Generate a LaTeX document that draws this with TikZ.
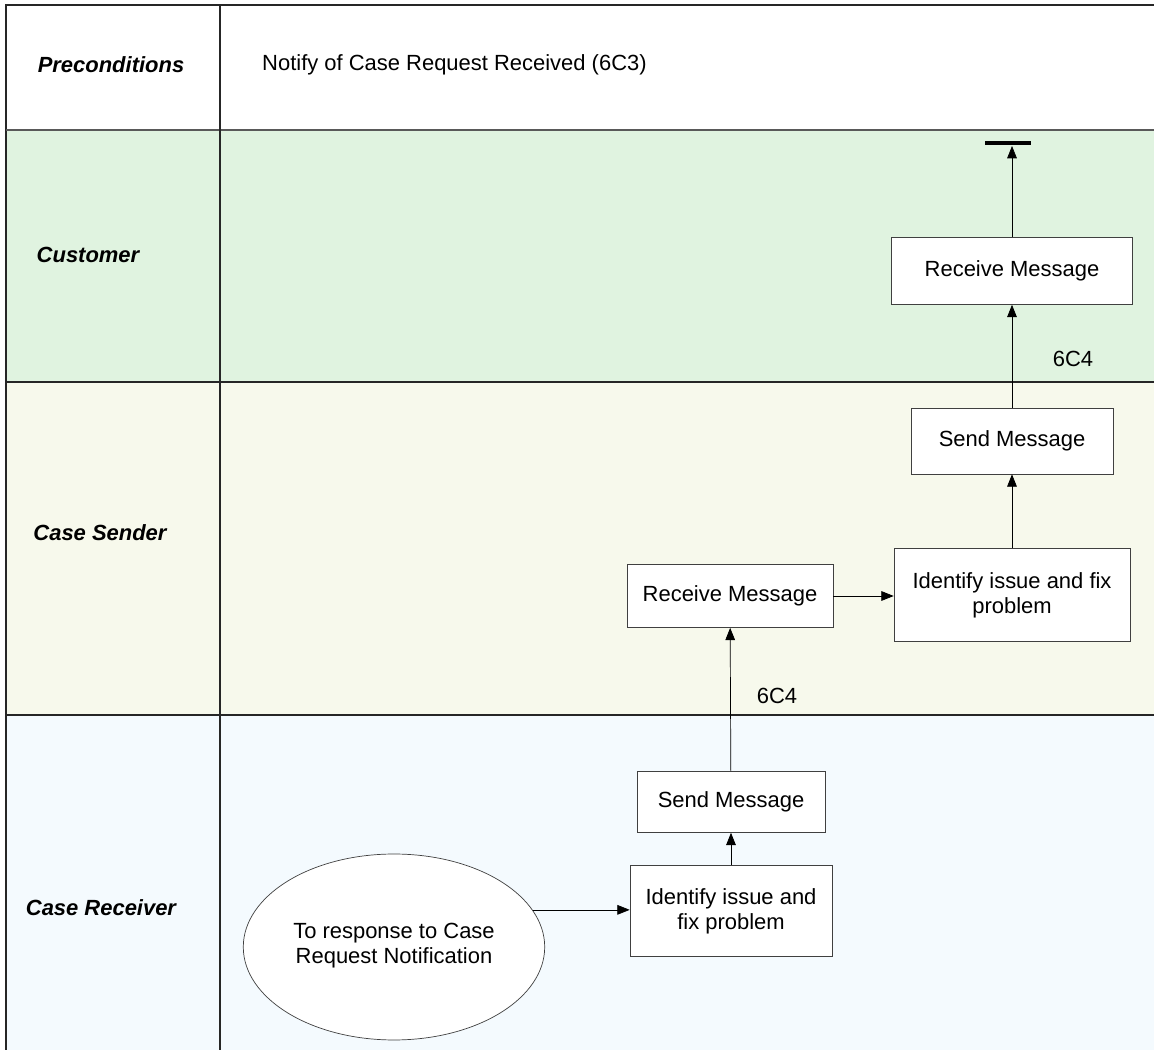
\documentclass[tikz,border=0pt]{standalone}
\usepackage{fontspec}
\setmainfont{Liberation Sans}
\usepackage{tikz}
\usetikzlibrary{arrows.meta, shapes.geometric, calc}
\definecolor{custgreen}{RGB}{224,243,224}
\definecolor{sendcream}{RGB}{247,249,236}
\definecolor{recvblue}{RGB}{244,250,254}
\definecolor{edgegray}{RGB}{64,64,64}

\begin{document}
\begin{tikzpicture}[
  x=0.02cm, y=-0.02cm,
  every node/.style={font=\fontsize{12.5}{14.2}\selectfont},
  box/.style={rectangle, draw=edgegray, fill=white, align=center, inner sep=2pt},
  oval/.style={ellipse, draw=edgegray, fill=white, align=center,
               minimum width=6.02cm, minimum height=3.72cm},
  lanelabel/.style={font=\fontsize{12.5}{14.2}\selectfont\bfseries\itshape},
  arrow/.style={-{Triangle[length=7pt, width=5.5pt]}, black},
  laneline/.style={draw=black!85, line width=0.8pt},
  endbar/.style={black, line width=2.4pt}
]
\useasboundingbox (0,0) rectangle (1154,1050);

% lanes
\fill[white] (6,5) rectangle (1154,130);
\fill[custgreen] (6,130) rectangle (1154,382);
\fill[sendcream] (6,382) rectangle (1154,715);
\fill[recvblue] (6,715) rectangle (1154,1050);
\draw[laneline] (6,1050) -- (6,5) -- (1154,5);
\draw[laneline, black!65, line width=1.2pt] (6,130) -- (1154,130);
\draw[laneline] (6,382) -- (1154,382);
\draw[laneline] (6,715) -- (1154,715);
\draw[laneline] (220,5) -- (220,1050);

\node[lanelabel] (precond) at (111,65) {Preconditions};
\node[anchor=west] (notify) at (256,65) {Notify of Case Request Received (6C3)};
\node[lanelabel] (customer) at (88,255) {Customer};
\node[lanelabel] (sender) at (100,533) {Case Sender};
\node[lanelabel] (receiver) at (101,908) {Case Receiver};

% case receiver
\node[oval] (start) at (394,947) {To response to Case\\Request Notification\\[-9.7pt]\mbox{}};
\node[box, minimum width=4.04cm, minimum height=1.82cm] (fix1) at (731,911) {Identify issue and\\fix problem};
\node[box, minimum width=3.76cm, minimum height=1.22cm] (send1) at (731,802) {Send Message};

% case sender
\node[box, minimum width=4.12cm, minimum height=1.26cm] (recv1) at (730,596) {Receive Message};
\node[box, minimum width=4.72cm, minimum height=1.86cm] (fix2) at (1012,595) {Identify issue and fix\\problem};
\node[box, minimum width=4.04cm, minimum height=1.32cm] (send2) at (1012,441) {Send Message};

% customer
\node[box, minimum width=4.82cm, minimum height=1.34cm] (recv2) at (1012,271) {Receive Message};
\coordinate (finish) at (1012,146);

\draw[arrow] (start.15) -- (start.15 -| fix1.west);
\draw[arrow] (fix1) -- (send1);
\draw[arrow] (send1) -- (recv1);
\draw[arrow] (recv1) -- (fix2.west |- recv1);
\draw[arrow] (fix2) -- (send2);
\draw[arrow] (send2) -- (recv2);
\draw[arrow] (recv2) -- (finish);
\draw[endbar] ($(finish)+(-27,-3)$) -- ($(finish)+(19,-3)$);

\node (msg1) at (777,696) {6C4};
\node (msg2) at (1073,359) {6C4};
\end{tikzpicture}
\end{document}
